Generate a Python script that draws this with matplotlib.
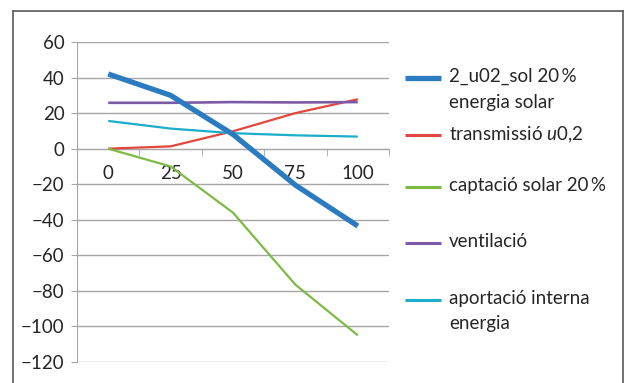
import matplotlib
matplotlib.use('Agg')
import matplotlib.pyplot as plt
from matplotlib.lines import Line2D

plt.rcParams['font.family'] = ['Lato', 'DejaVu Sans']
plt.rcParams['mathtext.fontset'] = 'custom'
plt.rcParams['mathtext.rm'] = 'Lato'
plt.rcParams['mathtext.it'] = 'Lato:italic'

categories = ['0', '25', '50', '75', '100']
sol = [42, 30, 8, -20.5, -43.5]
transmissio = [0, 1.3, 9.8, 20, 27.8]
captacio = [0, -10, -36, -76.5, -105]
ventilacio = [25.8, 25.8, 26.2, 26, 26.2]
aportacio = [15.6, 11.3, 8.7, 7.5, 6.8]

labels = ['2_u02_sol 20\u2009%\nenergia solar', 'transmissió $\\it{u}$0,2',
          'captació solar 20\u2009%', 'ventilació', 'aportació interna\nenergia']
colors = ['#2B7BC0', '#E2463F', '#7DBB45', '#7B5BA8', '#1AAECB']
widths = [3.8, 1.6, 1.6, 1.9, 1.6]
series = [sol, transmissio, captacio, ventilacio, aportacio]

FS = 13.5
W, H = 625, 383
fig = plt.figure(figsize=(W / 100, H / 100), dpi=100)
ax = fig.add_axes([77 / W, 1 - 362 / H, 312 / W, 320 / H])

x = range(len(categories))
# draw order: thin lines below thick blue
for i in [1, 2, 3, 4, 0]:
    ax.plot(x, series[i], color=colors[i], lw=widths[i], solid_capstyle='butt', zorder=3)

ax.set_xlim(-0.5, 4.5)
ax.set_ylim(-120, 60)
ax.set_yticks(range(-120, 61, 20))
ax.yaxis.grid(True, color='#A6A6A6', lw=1)
ax.set_axisbelow(True)

for s in ['top', 'right']:
    ax.spines[s].set_visible(False)
ax.spines['left'].set_color('#A6A6A6')
ax.spines['bottom'].set_color('#A6A6A6')
ax.spines['bottom'].set_position(('data', 0))
ax.spines['bottom'].set_zorder(2)

ax.set_xticks(list(x))
ax.set_xticklabels(categories)
ax.set_xticks([i - 0.5 for i in range(6)], minor=True)
ax.tick_params(axis='x', which='major', length=0, pad=12, labelsize=FS, colors='#262626')
ax.tick_params(axis='x', which='minor', length=5, color='#A6A6A6', direction='out')
ax.tick_params(axis='y', length=4, color='#A6A6A6', pad=5, labelsize=FS, colors='#262626')
ax.tick_params(axis='y', color='#A6A6A6')

# legend drawn by hand so the line sits next to the first text row
leg_y = [78, 135, 187, 243, 300]
for i, lab in enumerate(labels):
    y = 1 - leg_y[i] / H
    fig.add_artist(Line2D([405 / W, 441 / W], [y, y], transform=fig.transFigure,
                          color=colors[i], lw=widths[i] if i == 0 else 2.2,
                          solid_capstyle='butt'))
    fig.text(449 / W, y + 10 / H, lab, fontsize=FS, color='#262626',
             va='top', ha='left', linespacing=1.6)

# outer chart frame
frame = dict(transform=fig.transFigure, color='#595959', lw=1.2)
fig.add_artist(Line2D([13 / W, 13 / W], [0, 1 - 11 / H], **frame))
fig.add_artist(Line2D([13 / W, 623 / W], [1 - 11 / H, 1 - 11 / H], **frame))
fig.add_artist(Line2D([623 / W, 623 / W], [0, 1 - 11 / H], **frame))

fig.savefig('out.png', dpi=100)
